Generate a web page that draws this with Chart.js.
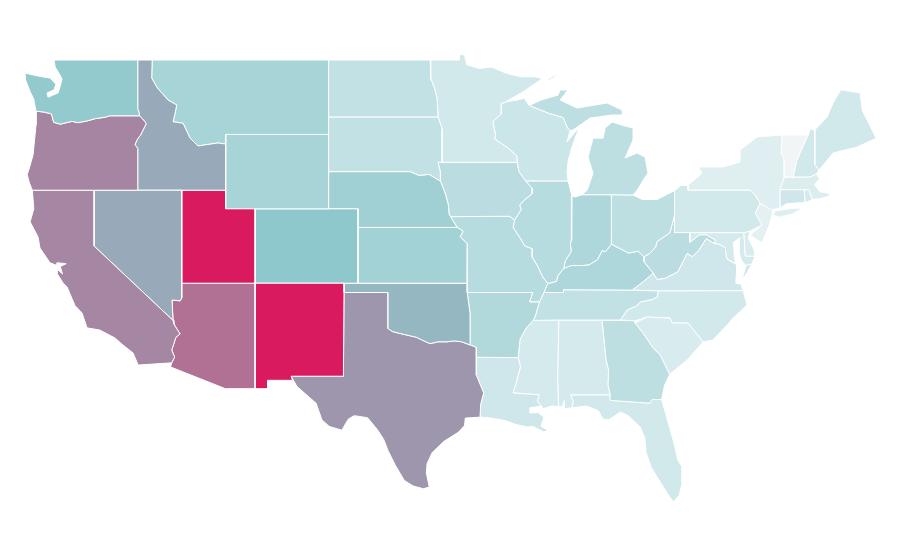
<!DOCTYPE html>
<html>
<head>
<meta charset="utf-8">
<title>US states</title>
<script src="https://cdn.jsdelivr.net/npm/chart.js@4"></script>
<style>
  html, body { margin: 0; padding: 0; background: #fff; }
  #chart { display: block; }
</style>
</head>
<body>
<canvas id="chart" width="900" height="560"></canvas>
<script>
// State outlines as [longitude, latitude]
const WA = [[-117.03,49],[-122.72,49],[-122.65,48.62],[-122.4,48.3],[-122.18,47.98],[-122.3,47.6],[-122.45,47.23],[-123.13,47.0],[-123.2,47.23],[-122.72,47.4],[-122.6,47.7],[-122.99,48.03],[-123.47,48.09],[-124,48.17],[-124.7,48.3],[-124.65,47.9],[-124.35,47.3],[-124.1,46.9],[-124.05,46.65],[-123.95,46.25],[-123.4,46.2],[-122.9,46.1],[-122.75,45.65],[-122.3,45.55],[-121.5,45.7],[-121.1,45.63],[-120.5,45.72],[-119.9,45.85],[-119.2,45.93],[-118.95,46],[-116.92,46],[-116.95,46.2],[-117.04,46.4]];
const OR = [[-123.95,46.25],[-123.95,45.5],[-124.05,44.7],[-124.15,43.9],[-124.4,43.2],[-124.55,42.84],[-124.4,42.4],[-124.2,42],[-120,42],[-117.03,42],[-117.03,43.83],[-117.03,44.25],[-117.22,44.45],[-117.05,44.75],[-116.85,44.95],[-116.5,45.5],[-116.46,45.6],[-116.7,45.83],[-116.92,46],[-118.95,46],[-119.2,45.93],[-119.9,45.85],[-120.5,45.72],[-121.1,45.63],[-121.5,45.7],[-122.3,45.55],[-122.75,45.65],[-122.9,46.1],[-123.4,46.2]];
const CA = [[-124.2,42],[-120,42],[-120,39],[-114.63,35],[-114.57,34.8],[-114.15,34.27],[-114.43,34.1],[-114.72,33.4],[-114.52,33.03],[-114.72,32.72],[-117.0,32.6],[-117.35,33.25],[-118.1,33.72],[-118.57,34.05],[-119.6,34.48],[-120.48,34.6],[-120.82,35.4],[-121.3,35.8],[-121.84,36.8],[-122.1,37],[-122.5,37.5],[-122.5,37.75],[-122.15,37.5],[-122.3,37.9],[-121.9,38.05],[-122.5,38.1],[-122.52,37.95],[-123,38.1],[-123.68,38.89],[-123.81,39.48],[-124.35,40.3],[-124.1,41]];
const NV = [[-120,42],[-114.04,42],[-114.04,36.2],[-114.15,36.05],[-114.7,36.1],[-114.63,35],[-120,39]];
const UT = [[-114.04,42],[-111.05,42],[-111.05,41],[-109.05,41],[-109.05,37],[-114.04,37]];
const AZ = [[-114.04,37],[-109.05,37],[-109.05,31.33],[-111.07,31.33],[-114.8,32.5],[-114.72,32.72],[-114.52,33.03],[-114.72,33.4],[-114.43,34.1],[-114.15,34.27],[-114.57,34.8],[-114.63,35],[-114.7,36.1],[-114.15,36.05],[-114.04,36.2]];
const NM = [[-109.05,37],[-103,37],[-103,36.5],[-103.04,32],[-106.6,32],[-106.5,31.78],[-108.2,31.78],[-108.2,31.33],[-109.05,31.33]];
const ID = [[-117.03,49],[-116.05,49],[-116.08,48.03],[-115.7,47.5],[-114.97,46.85],[-114.38,46.58],[-114.5,46.1],[-114.63,45.68],[-113.95,45.6],[-113.47,44.8],[-112.93,44.38],[-111.57,44.54],[-111.05,44.48],[-111.05,42],[-114.04,42],[-117.03,42],[-117.03,44.25],[-117.22,44.45],[-117.05,44.75],[-116.85,44.95],[-116.5,45.5],[-116.46,45.6],[-116.7,45.83],[-116.92,46],[-116.95,46.2],[-117.04,46.4]];
const MT = [[-116.05,49],[-104.05,49],[-104.05,45],[-111.05,45],[-111.05,44.48],[-111.57,44.54],[-112.93,44.38],[-113.47,44.8],[-113.95,45.6],[-114.63,45.68],[-114.5,46.1],[-114.38,46.58],[-114.97,46.85],[-115.7,47.5],[-116.08,48.03]];
const WY = [[-111.05,45],[-104.05,45],[-104.05,41],[-111.05,41]];
const CO = [[-109.05,41],[-102.05,41],[-102.05,37],[-109.05,37]];
const ND = [[-104.05,49],[-97.14,49],[-97.1,48],[-96.85,47.5],[-96.67,46.9],[-96.6,45.94],[-104.05,45.94]];
const SD = [[-104.05,45.94],[-96.6,45.94],[-96.33,45.3],[-96.33,43.5],[-96.6,43.5],[-96.45,43],[-96.44,42.49],[-97.2,42.85],[-97.9,42.8],[-98.5,43],[-104.05,43]];
const NE = [[-104.05,43],[-98.5,43],[-97.9,42.8],[-97.2,42.85],[-96.44,42.49],[-96.1,41.8],[-95.9,41.2],[-95.85,40.7],[-95.3,40],[-102.05,40],[-102.05,41],[-104.05,41]];
const KS = [[-102.05,40],[-95.3,40],[-94.9,39.8],[-95.1,39.5],[-94.6,39.1],[-94.62,37],[-102.05,37]];
const OK = [[-103,37],[-94.62,37],[-94.62,36.5],[-94.43,35.4],[-94.42,33.68],[-95,33.85],[-95.5,33.9],[-96,33.85],[-96.6,33.85],[-97.15,33.75],[-97.7,33.95],[-98.1,34.1],[-99.2,34.3],[-99.7,34.4],[-100,34.56],[-100,36.5],[-103,36.5]];
const TX = [[-103,36.5],[-100,36.5],[-100,34.56],[-99.7,34.4],[-99.2,34.3],[-98.1,34.1],[-97.7,33.95],[-97.15,33.75],[-96.6,33.85],[-96,33.85],[-95.5,33.9],[-95,33.85],[-94.42,33.68],[-94.0,33.55],[-94.0,33.02],[-94.0,32.06],[-93.5,31.1],[-93.7,30.5],[-93.75,29.8],[-94.75,29.75],[-94.8,29.35],[-95.2,29],[-96.2,28.5],[-97,27.9],[-97.35,27.3],[-97.4,26.8],[-97.2,26.05],[-97.6,25.95],[-98.3,26.1],[-98.9,26.4],[-99.5,27.2],[-100,28.0],[-100.3,28.6],[-100.7,29.1],[-101.4,29.77],[-102.3,29.88],[-102.7,29.7],[-103.15,29.1],[-104,29.3],[-104.5,29.65],[-104.9,30.55],[-106.2,31.45],[-106.6,32],[-103.04,32]];
const MN = [[-97.14,49],[-95.15,49],[-95.15,49.3],[-94.8,49.27],[-94.65,48.75],[-93.8,48.55],[-92.95,48.62],[-92,48.3],[-91,48.1],[-90,48.1],[-89.5,48],[-90.8,47.3],[-92,46.75],[-92.3,46.66],[-92.3,46.1],[-92.87,45.7],[-92.7,45],[-92.75,44.75],[-91.9,44.3],[-91.25,43.85],[-91.22,43.5],[-96.33,43.5],[-96.33,45.3],[-96.6,45.94],[-96.67,46.9],[-96.85,47.5],[-97.1,48]];
const IA = [[-96.6,43.5],[-91.22,43.5],[-91.1,43],[-90.65,42.5],[-90.2,42.1],[-90.2,41.8],[-90.7,41.5],[-91.05,41.2],[-90.95,40.95],[-91.4,40.4],[-91.72,40.6],[-95.77,40.58],[-95.85,40.7],[-95.9,41.2],[-96.1,41.8],[-96.44,42.49],[-96.45,43]];
const MO = [[-95.77,40.58],[-91.72,40.6],[-91.4,40.4],[-91.5,40],[-91,39.4],[-90.7,39],[-90.2,38.85],[-90.2,38.4],[-89.85,37.95],[-89.5,37.35],[-89.15,36.98],[-89.4,36.5],[-89.7,36],[-90.37,36],[-90.15,36.5],[-94.62,36.5],[-94.62,37],[-94.6,39.1],[-95.1,39.5],[-94.9,39.8],[-95.3,40]];
const AR = [[-94.62,36.5],[-90.15,36.5],[-90.37,36],[-89.7,36],[-90,35.2],[-90.14,35],[-90.6,34.6],[-91.02,34],[-91.15,33],[-94,33.02],[-94,33.55],[-94.42,33.68],[-94.43,35.4]];
const LA = [[-94,33.02],[-91.15,33],[-91,32.5],[-91.3,31.6],[-91.5,31.1],[-89.73,31],[-89.85,30.65],[-89.45,30.25],[-89.6,30.4],[-90.34,30.3],[-90.34,30.02],[-89.8,30.05],[-89.4,29.8],[-89.6,29.3],[-89.12,29.1],[-89.4,29.0],[-90.14,29.3],[-90.55,29.27],[-91.3,29.4],[-91.8,29.55],[-92.25,29.65],[-93.2,29.77],[-93.75,29.8],[-93.7,30.5],[-93.5,31.1],[-94,32.06]];
const WI = [[-92.3,46.66],[-92,46.75],[-91.2,46.85],[-90.75,46.95],[-90.4,46.55],[-89.1,46.14],[-88.1,45.9],[-87.8,45.35],[-87.62,45.2],[-87.83,44.6],[-87,45.4],[-87.5,44.3],[-87.75,43.6],[-87.83,43],[-87.76,42.5],[-90.65,42.5],[-91.1,43],[-91.22,43.5],[-91.25,43.85],[-91.9,44.3],[-92.75,44.75],[-92.7,45],[-92.87,45.7],[-92.3,46.1]];
const IL = [[-90.65,42.5],[-87.76,42.5],[-87.5,41.7],[-87.53,39.35],[-87.6,39.1],[-87.55,38.7],[-87.95,38.2],[-88.05,37.8],[-88.45,37.4],[-88.55,37.1],[-89.15,36.98],[-89.5,37.35],[-89.85,37.95],[-90.2,38.4],[-90.2,38.85],[-90.7,39],[-91,39.4],[-91.5,40],[-91.4,40.4],[-90.95,40.95],[-91.05,41.2],[-90.7,41.5],[-90.2,41.8],[-90.2,42.1]];
const IN = [[-87.5,41.7],[-87.28,41.63],[-86.82,41.76],[-84.8,41.76],[-84.81,39.1],[-85.2,38.7],[-85.45,38.75],[-85.75,38.27],[-86.3,38],[-86.8,37.95],[-87.55,37.95],[-88.05,37.8],[-87.95,38.2],[-87.55,38.7],[-87.6,39.1],[-87.53,39.35]];
const OH = [[-84.8,41.76],[-83.34,41.74],[-82.7,41.5],[-81.7,41.5],[-80.52,41.98],[-80.52,40.64],[-80.7,40.1],[-80.85,39.7],[-81.7,39.25],[-81.8,38.95],[-82.2,38.6],[-82.6,38.42],[-83,38.72],[-83.65,38.62],[-84.2,38.85],[-84.81,39.1]];
const MI_LOWER = [[-86.82,41.76],[-84.8,41.76],[-83.34,41.74],[-83.06,42],[-82.6,42.6],[-82.32,42.92],[-82.52,43.78],[-83.06,44],[-83.88,43.73],[-83.34,44.7],[-83.34,45.34],[-84.1,45.5],[-84.76,45.67],[-85.24,45.34],[-85.38,44.8],[-86.06,44.8],[-86.4,43.78],[-86.06,42.92],[-86.46,42]];
const MI_UPPER = [[-90.4,46.55],[-89.1,46.14],[-88.1,45.9],[-87.8,45.35],[-87.62,45.2],[-87.42,45.24],[-86.26,45.88],[-84.76,46.04],[-84.08,46.04],[-84.08,46.31],[-85.1,46.69],[-87.15,46.42],[-88.3,46.85],[-87.76,47.39],[-88.3,47.39],[-88.44,47.12],[-89.6,46.85]];
const MI_ISLE = [[-89.2,47.85],[-88.5,48.15],[-88.7,48.15],[-89.1,47.98]];
const KY = [[-89.15,36.98],[-88.55,37.1],[-88.45,37.4],[-88.05,37.8],[-87.55,37.95],[-86.8,37.95],[-86.3,38],[-85.75,38.27],[-85.45,38.75],[-85.2,38.7],[-84.81,39.1],[-84.2,38.85],[-83.65,38.62],[-83,38.72],[-82.6,38.42],[-82.6,38.15],[-81.97,37.54],[-82.7,37.05],[-83.4,36.63],[-88.07,36.65],[-88.07,36.5],[-89.4,36.5]];
const TN = [[-90.14,35],[-90,35.2],[-89.7,36],[-89.4,36.5],[-88.07,36.5],[-88.07,36.65],[-83.4,36.63],[-81.63,36.58],[-81.7,36.26],[-82.05,36.12],[-82.85,35.99],[-83.1,35.78],[-83.74,35.56],[-84.2,35.02],[-88.39,35.02]];
const MS = [[-90.14,35.02],[-88.39,35.02],[-88.47,31.9],[-88.4,30.37],[-88.85,30.4],[-89.45,30.25],[-89.85,30.65],[-89.73,31],[-91.5,31.1],[-91.3,31.6],[-91,32.5],[-91.15,33],[-91.02,34],[-90.6,34.6]];
const AL = [[-88.39,35.02],[-85.45,35.02],[-85.18,32.87],[-85,32.3],[-85.05,31.55],[-84.9,31],[-87.6,31],[-87.4,30.65],[-87.5,30.3],[-88,30.25],[-88,30.7],[-88.15,30.35],[-88.4,30.37],[-88.47,31.9]];
const GA = [[-85.45,35.02],[-83.2,34.98],[-83.2,34.86],[-82.66,34.32],[-82,33.55],[-81.5,33.14],[-81.16,32.6],[-80.85,32.1],[-81.2,31.5],[-81.4,30.75],[-82.05,30.75],[-82.2,30.55],[-84.86,30.7],[-84.9,31],[-85.05,31.55],[-85,32.3],[-85.18,32.87]];
const FL = [[-87.6,31],[-84.9,31],[-84.86,30.7],[-82.2,30.55],[-82.05,30.75],[-81.4,30.75],[-81,29.65],[-80.55,28.4],[-80.3,27.5],[-80,27.12],[-80,26.26],[-80.2,25.6],[-80.6,25.24],[-81.02,25.72],[-81.7,26.58],[-82.1,27.1],[-82.45,27.9],[-82.55,28.7],[-82.85,29.27],[-83.7,29.9],[-84.2,30.08],[-85,29.65],[-85.4,29.7],[-85.7,30.15],[-86.5,30.4],[-87.5,30.3],[-87.4,30.65]];
const SC = [[-83.2,34.86],[-82.38,35.18],[-80.82,35.13],[-80.68,34.86],[-79.6,34.86],[-78.57,33.84],[-79.66,32.87],[-80.85,32.1],[-81.16,32.6],[-81.5,33.14],[-82,33.55],[-82.66,34.32]];
const NC = [[-84.2,35.02],[-83.74,35.56],[-83.1,35.78],[-82.85,35.99],[-82.05,36.12],[-81.7,36.26],[-81.63,36.58],[-75.85,36.6],[-75.58,35.83],[-76.53,35.13],[-76.94,34.75],[-77.9,33.95],[-78.57,33.84],[-79.6,34.86],[-80.68,34.86],[-80.82,35.13],[-82.38,35.18],[-83.2,34.98]];
const VA = [[-83.4,36.63],[-81.63,36.58],[-75.85,36.6],[-76,36.95],[-76.35,37],[-76.3,37.6],[-76.3,38],[-76.95,38.3],[-77.05,38.7],[-77.05,38.9],[-77.5,39.1],[-77.83,39.13],[-78.35,39.4],[-78.87,38.76],[-79.3,38.42],[-79.65,38.6],[-80.3,37.6],[-81.2,37.25],[-81.7,37.2],[-81.97,37.54],[-82.7,37.05]];
const VA_SHORE = [[-75.95,37.15],[-75.6,37.55],[-75.25,38.03],[-75.65,37.95]];
const WV = [[-82.6,38.42],[-82.2,38.6],[-81.8,38.95],[-81.7,39.25],[-80.85,39.7],[-80.7,40.1],[-80.52,40.64],[-80.52,39.72],[-79.48,39.72],[-79.48,39.2],[-78.8,39.6],[-78.35,39.6],[-77.75,39.32],[-77.83,39.13],[-78.35,39.4],[-78.87,38.76],[-79.3,38.42],[-79.65,38.6],[-80.3,37.6],[-81.2,37.25],[-81.7,37.2],[-81.97,37.54],[-82.6,38.15]];
const PA = [[-80.52,41.98],[-80.1,42.25],[-79.6,42.27],[-79.6,42],[-75.35,42],[-75.05,41.75],[-74.7,41.3],[-75.03,40.77],[-74.56,40.13],[-75.38,39.8],[-75.8,39.72],[-80.52,39.72]];
const NY = [[-79.6,42],[-79.6,42.27],[-78.64,42.92],[-78.91,43.25],[-77.21,43.25],[-76.06,43.52],[-76.06,44.16],[-74.9,44.86],[-73.2,44.97],[-73.27,44],[-73.06,43.6],[-73.06,42.7],[-73.35,42.03],[-73.34,41.05],[-73.9,40.94],[-74.7,41.3],[-75.05,41.75],[-75.35,42]];
const NY_LONG = [[-73.81,40.67],[-73.7,40.88],[-72.6,41.02],[-71.77,41.05],[-72.5,40.72],[-73.4,40.55]];
const NJ = [[-74.7,41.3],[-73.81,40.94],[-74.02,40.24],[-74.56,39.16],[-75.38,39.59],[-74.56,40.13],[-75.03,40.77]];
const DE = [[-75.8,39.72],[-75.38,39.8],[-75.5,39.4],[-75.1,38.8],[-75.05,38.45],[-75.7,38.46]];
const MD = [[-79.48,39.72],[-75.8,39.72],[-75.7,38.46],[-75.05,38.45],[-75.25,38.03],[-75.65,37.95],[-75.95,38.2],[-76.1,38.6],[-76.1,39.3],[-76.05,39.45],[-76.5,39.2],[-76.45,38.4],[-76.35,38.05],[-76.95,38.3],[-77.05,38.7],[-77.05,38.9],[-77.5,39.1],[-77.83,39.13],[-77.75,39.32],[-78.35,39.6],[-78.8,39.6],[-79.48,39.2]];
const CT = [[-73.35,42.03],[-71.7,42.02],[-71.64,41.35],[-72.9,41.27],[-73.34,41.05]];
const RI = [[-71.7,42.02],[-71.38,42.02],[-71.15,41.5],[-71.5,41.37],[-71.64,41.35]];
const MA = [[-73.06,42.7],[-71.3,42.7],[-70.85,42.88],[-70.65,42.6],[-71,42.3],[-70.6,41.9],[-70.05,41.85],[-69.95,41.7],[-70.6,41.55],[-71.15,41.5],[-71.38,42.02],[-71.7,42.02],[-73.35,42.03]];
const VT = [[-73.2,44.97],[-71.43,44.97],[-71.84,44.27],[-72.2,43.6],[-72.45,42.7],[-73.06,42.7],[-73.06,43.6],[-73.27,44]];
const NH = [[-71.43,44.97],[-71.3,45.3],[-70.98,45.24],[-70.98,43.4],[-70.7,43.07],[-70.85,42.88],[-71.3,42.7],[-72.45,42.7],[-72.2,43.6],[-71.84,44.27]];
const ME = [[-70.98,45.24],[-70.14,45.94],[-69.73,46.69],[-69.2,47.4],[-67.89,47.23],[-67.75,46.3],[-67.35,45.67],[-66.8,44.8],[-68.1,44.32],[-69.73,44],[-70.4,43.35],[-70.7,43.07],[-70.98,43.4]];

const stateNames = ['WA','OR','CA','NV','ID','UT','AZ','NM','MT','WY','CO','ND','SD','NE','KS','OK','TX','MN','IA','MO','AR','LA','WI','IL','MI','IN','OH','KY','TN','MS','AL','GA','FL','SC','NC','VA','WV','PA','NY','NJ','DE','MD','CT','RI','MA','VT','NH','ME'];
const stateValues = [29,57,56,42,42,100,65,100,23,23,30,15,15,25,24,37,50,10,17,18,20,11,12,18,16,21,16,21,15,9,9,16,10,8,10,11,17,10,6,4,8,9,11,9,7,0,10,10];
const stateRings = [[WA],[OR],[CA],[NV],[ID],[UT],[AZ],[NM],[MT],[WY],[CO],[ND],[SD],[NE],[KS],[OK],[TX],[MN],[IA],[MO],[AR],[LA],[WI],[IL],[MI_LOWER,MI_UPPER,MI_ISLE],[IN],[OH],[KY],[TN],[MS],[AL],[GA],[FL],[SC],[NC],[VA,VA_SHORE],[WV],[PA],[NY,NY_LONG],[NJ],[DE],[MD],[CT],[RI],[MA],[VT],[NH],[ME]];

// Colour ramp: value -> grey, pale teal, teal, mauve, crimson
const rampStops = [0, 10, 30, 50, 100];
const rampColors = [[242,245,246],[210,233,236],[143,200,204],[158,150,173],[217,26,94]];

function colorFor(value) {
  let i = 0;
  while (i < rampStops.length - 2 && value > rampStops[i + 1]) i++;
  const t = (value - rampStops[i]) / (rampStops[i + 1] - rampStops[i]);
  const c = rampColors[i].map((v, k) => Math.round(v + (rampColors[i + 1][k] - v) * t));
  return `rgb(${c[0]},${c[1]},${c[2]})`;
}

const datasets = [];
stateNames.forEach((name, i) => {
  stateRings[i].forEach((ring) => {
    const points = ring.map(([x, y]) => ({ x, y }));
    points.push({ x: ring[0][0], y: ring[0][1] }); // close the outline
    datasets.push({
      label: name,
      data: points,
      fill: 'shape',
      backgroundColor: colorFor(stateValues[i]),
      borderColor: '#ffffff',
      borderWidth: 1,
      pointRadius: 0,
      tension: 0
    });
  });
});

new Chart(document.getElementById('chart').getContext('2d'), {
  type: 'line',
  data: { datasets },
  options: {
    responsive: false,
    animation: false,
    layout: { padding: 0 },
    scales: {
      x: { type: 'linear', display: false, min: -126.4, max: -65.18 },
      y: { type: 'linear', display: false, min: 22.12, max: 52.226 }
    },
    plugins: { legend: { display: false }, tooltip: { enabled: false } }
  }
});
</script>
</body>
</html>
